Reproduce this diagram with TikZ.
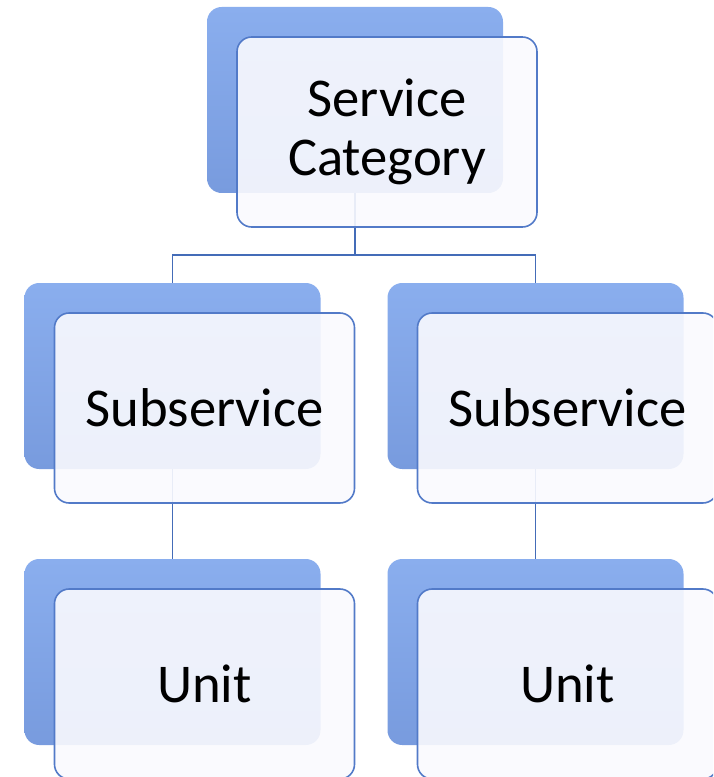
\documentclass[tikz,border=0pt]{standalone}
\usepackage{fontspec}
\setmainfont{Carlito}
\usepackage{tikz}
\usetikzlibrary{backgrounds}

\definecolor{cardtop}{RGB}{138,174,238}
\definecolor{cardbot}{RGB}{120,155,222}
\definecolor{cardedge}{RGB}{82,122,200}
\definecolor{cardface}{RGB}{250,250,254}
\definecolor{linkblue}{RGB}{68,108,184}

\begin{document}
\begin{tikzpicture}[x=0.75pt,y=-0.75pt,
        backcard/.style={rounded corners=11pt,top color=cardtop,bottom color=cardbot,
                minimum width=222pt,minimum height=139.5pt,inner sep=0pt},
        frontcard/.style={draw=cardedge,line width=1.2pt,rounded corners=11pt,
                fill=cardface,fill opacity=0.9,text opacity=1,
                minimum width=225pt,minimum height=142.5pt,inner sep=0pt,
                align=center,font=\fontsize{41}{44.5}\selectfont},
        link/.style={draw=linkblue,line width=1.3pt}]
        \useasboundingbox (0,0) rectangle (713,777);
        \clip (0,0) rectangle (713,777);

        % category
        \node[backcard] (cat) at (355,100) {};
        \node[frontcard] (catf) at ([shift={(32,32)}]cat.center) {Service\\Category};

        % subservices
        \node[backcard] (subl) at (172.5,376) {};
        \node[frontcard] (sublf) at ([shift={(32,32)}]subl.center) {Subservice};
        \node[backcard] (subr) at (535.5,376) {};
        \node[frontcard] (subrf) at ([shift={(32,32)}]subr.center) {Subservice};

        % units
        \node[backcard] (unitl) at (172.5,652) {};
        \node[frontcard] (unitlf) at ([shift={(32,32)}]unitl.center) {Unit};
        \node[backcard] (unitr) at (535.5,652) {};
        \node[frontcard] (unitrf) at ([shift={(32,32)}]unitr.center) {Unit};

        \begin{pgfonlayer}{background}
                \coordinate (split) at (355,255);
                \draw[link] (cat.center) -- (split) -| (subl.center);
                \draw[link] (split) -| (subr.center);
                \draw[link] (subl.center) -- (unitl.center);
                \draw[link] (subr.center) -- (unitr.center);
        \end{pgfonlayer}
\end{tikzpicture}
\end{document}
